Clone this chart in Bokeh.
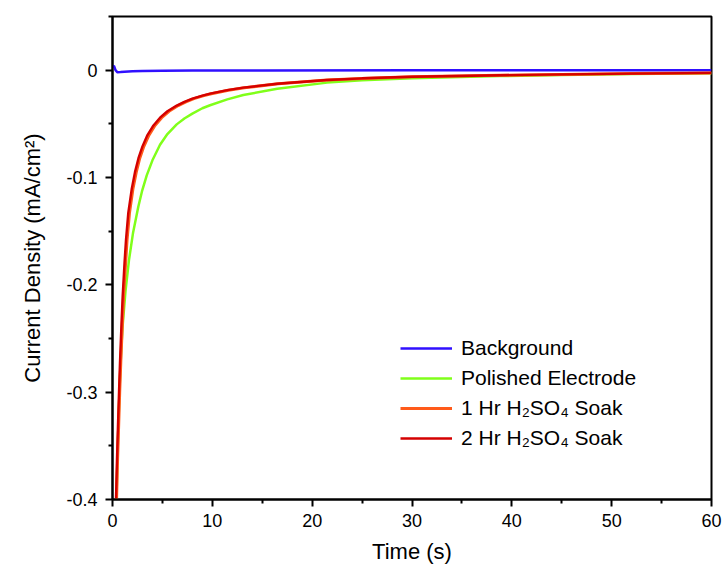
from bokeh.plotting import figure
from bokeh.models import Range1d, FixedTicker, CustomJSTickFormatter, Legend, LegendItem
from bokeh.embed import file_html
from bokeh.resources import INLINE

# ---- data ----
t_bg = [0, 0.15, 0.3, 0.5, 0.8, 1.2, 2, 3, 5, 8, 15, 30, 45, 60]
j_bg = [0.003, 0.004, 0.0, -0.002, -0.0018, -0.0015, -0.0011, -0.0008, -0.0005,
        -0.0003, -0.0002, -0.0001, -0.0001, 0.0]

t_pol = [0.4, 0.5, 0.6, 0.72, 0.85, 1.0, 1.3, 1.65, 2.05, 2.59, 2.95, 3.43, 4.0, 4.76,
         5.5, 6.43, 7.2, 8, 9, 9.77, 11.5, 13.1, 16.5, 21.5, 25, 30, 38.8, 45, 52, 60]
j_pol = [-0.399, -0.36, -0.327, -0.294, -0.265, -0.24, -0.206, -0.177, -0.152, -0.127,
         -0.113, -0.098, -0.084, -0.0695, -0.0595, -0.0505, -0.045, -0.0405, -0.0355,
         -0.0327, -0.0272, -0.0232, -0.0174, -0.0116, -0.0095, -0.0075, -0.0055,
         -0.0044, -0.0036, -0.0029]

t_1hr = [0.41, 0.51, 0.62, 0.72, 0.83, 0.99, 1.11, 1.31, 1.46, 1.7, 2.04, 2.38, 2.73, 3.14,
         3.65, 4.25, 4.92, 5.66, 6.58, 7.35, 8.15, 9.15, 9.9, 11.6, 13.2, 16.6, 21.5,
         25, 30, 38.8, 45, 52, 60]
j_1hr = [-0.399, -0.362, -0.330, -0.300, -0.272, -0.236, -0.210, -0.180, -0.158, -0.133,
         -0.111, -0.095, -0.082, -0.071, -0.0605, -0.0515, -0.0443, -0.0383, -0.0330,
         -0.0295, -0.0265, -0.0237, -0.0219, -0.0187, -0.0164, -0.0127, -0.0092,
         -0.0077, -0.0062, -0.0048, -0.0040, -0.0032, -0.0026]

t_2hr = [0.35, 0.45, 0.55, 0.65, 0.75, 0.9, 1.02, 1.2, 1.35, 1.58, 1.92, 2.25, 2.6, 3.0,
         3.5, 4.1, 4.76, 5.5, 6.43, 7.2, 8, 9, 9.77, 11.5, 13.1, 16.5, 21.5, 25, 30,
         38.8, 45, 52, 60]
j_2hr = [-0.399, -0.362, -0.330, -0.300, -0.272, -0.236, -0.210, -0.180, -0.158, -0.133,
         -0.111, -0.095, -0.082, -0.071, -0.0605, -0.0515, -0.0443, -0.0383, -0.0330,
         -0.0295, -0.0265, -0.0237, -0.0219, -0.0186, -0.0163, -0.0126, -0.0091,
         -0.0076, -0.0061, -0.0047, -0.0039, -0.0032, -0.0025]

x_ticks = [0, 10, 20, 30, 40, 50, 60]
y_ticks = [-0.4, -0.3, -0.2, -0.1, 0]
labels = ["Background", "Polished Electrode", "1 Hr H\u2082SO\u2084 Soak", "2 Hr H\u2082SO\u2084 Soak"]
colors = ["#3010ff", "#80ff1a", "#ff5a1a", "#d40000"]

FONT = "Liberation Sans"

p = figure(width=724, height=574, output_backend="svg", toolbar_location=None,
           x_range=Range1d(0, 60), y_range=Range1d(-0.4, 0.05),
           min_border_left=112, min_border_right=13, min_border_top=16,
           min_border_bottom=75)
p.grid.visible = False
p.outline_line_color = "black"
p.outline_line_width = 2
p.background_fill_color = "white"
p.border_fill_color = "white"

r_bg = p.line(t_bg, j_bg, line_color=colors[0], line_width=2.5)
r_pol = p.line(t_pol, j_pol, line_color=colors[1], line_width=2.5)
r_1 = p.line(t_1hr, j_1hr, line_color=colors[2], line_width=3)
r_2 = p.line(t_2hr, j_2hr, line_color=colors[3], line_width=2.4)

for ax in (p.xaxis[0], p.yaxis[0]):
    ax.axis_line_width = 2
    ax.major_tick_line_width = 2
    ax.minor_tick_line_width = 2
    ax.major_tick_out = 7
    ax.major_tick_in = 0
    ax.minor_tick_out = 4
    ax.minor_tick_in = 0
    ax.major_label_text_font = FONT
    ax.major_label_text_font_size = "18px"
    ax.major_label_text_color = "black"
    ax.axis_label_text_font = FONT
    ax.axis_label_text_font_size = "22px"
    ax.axis_label_text_font_style = "normal"
    ax.axis_label_text_color = "black"

p.xaxis.ticker = FixedTicker(ticks=x_ticks, minor_ticks=[5, 15, 25, 35, 45, 55])
p.yaxis.ticker = FixedTicker(ticks=y_ticks, minor_ticks=[-0.35, -0.25, -0.15, -0.05, 0.05])
p.yaxis.formatter = CustomJSTickFormatter(code="return Math.abs(tick) < 1e-9 ? '0' : tick.toFixed(1);")
p.xaxis.axis_label = "Time (s)"
p.yaxis.axis_label = "Current Density (mA/cm\u00b2)"
p.xaxis.major_label_standoff = 7
p.yaxis.major_label_standoff = 8
p.xaxis.axis_label_standoff = 9
p.yaxis.axis_label_standoff = 18

legend = Legend(items=[LegendItem(label=l, renderers=[r]) for l, r in
                       zip(labels, [r_bg, r_pol, r_1, r_2])],
                location=(288, 46))
legend.border_line_color = None
legend.background_fill_alpha = 0
legend.padding = 0
legend.margin = 0
legend.spacing = 0
legend.glyph_width = 52
legend.glyph_height = 30
legend.label_height = 30
legend.label_standoff = 9
legend.label_text_font = FONT
legend.label_text_font_size = "21px"
legend.label_text_color = "black"
p.add_layout(legend, "center")

open("out.html", "w").write(file_html(p, INLINE))
